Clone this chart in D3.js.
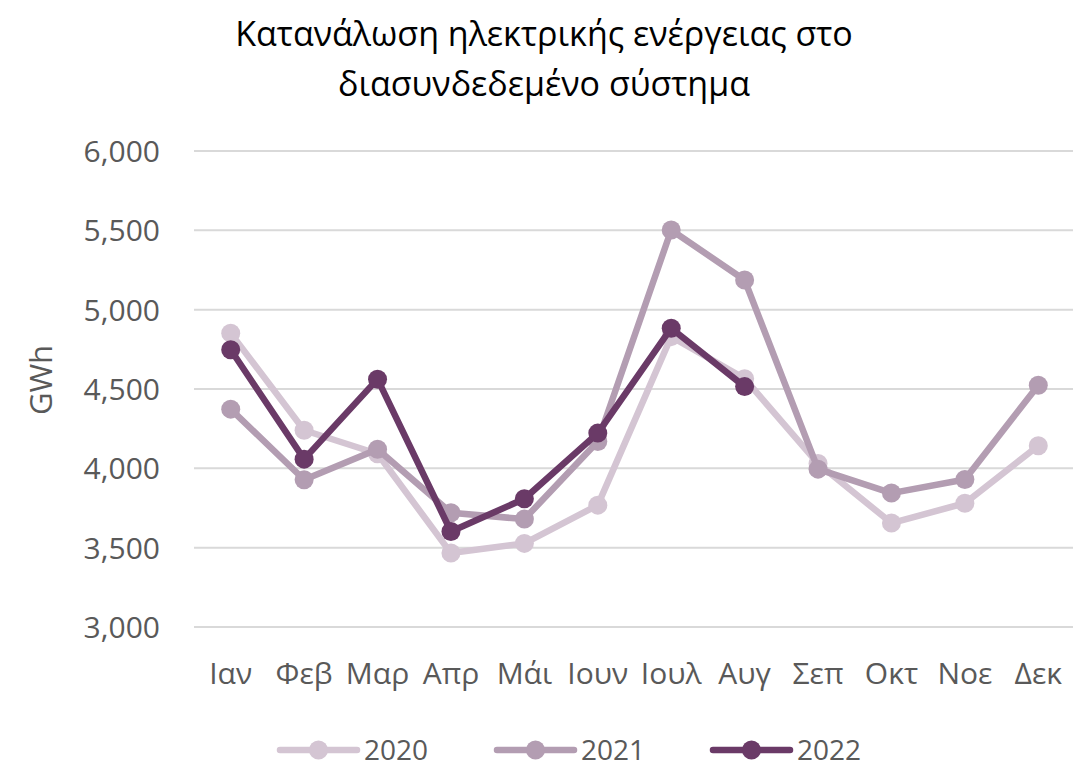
<!DOCTYPE html>
<html>
<head>
<meta charset="utf-8">
<script src="https://cdn.jsdelivr.net/npm/d3@7"></script>
<style>
  html, body { margin: 0; padding: 0; background: #fff; }
  svg { display: block; font-family: "Open Sans", "Noto Sans", sans-serif; }
</style>
</head>
<body>
<svg id="chart" width="1073" height="767"></svg>
<script>
// Monthly electricity consumption (GWh), interconnected system
const months = ["Ιαν", "Φεβ", "Μαρ", "Απρ", "Μάι", "Ιουν", "Ιουλ", "Αυγ", "Σεπ", "Οκτ", "Νοε", "Δεκ"];
const values2020 = [4852, 4240, 4092, 3466, 3527, 3768, 4830, 4565, 4030, 3655, 3780, 4142];
const values2021 = [4373, 3928, 4120, 3720, 3680, 4169, 5502, 5187, 3995, 3844, 3930, 4524];
const values2022 = [4747, 4058, 4562, 3602, 3808, 4222, 4883, 4515];
const yTicks = [3000, 3500, 4000, 4500, 5000, 5500, 6000];
const seriesNames = ["2020", "2021", "2022"];
const seriesColors = ["#D4C5D3", "#B39DB2", "#6A3A67"];
const titleLines = ["Κατανάλωση ηλεκτρικής ενέργειας στο", "διασυνδεδεμένο σύστημα"];
const yTitle = "GWh";

const series = [values2020, values2021, values2022].map((vals, i) => ({
  name: seriesNames[i],
  color: seriesColors[i],
  points: vals.map((v, j) => ({ month: months[j], value: v }))
}));

const svg = d3.select("#chart");
const plot = { left: 194, right: 1075, top: 151, bottom: 627 };

const x = d3.scaleBand().domain(months).range([plot.left, plot.right]);
const y = d3.scaleLinear().domain([3000, 6000]).range([plot.bottom, plot.top]);
const cx = m => x(m) + x.bandwidth() / 2;

// Title
svg.append("text")
  .attr("x", 544).attr("y", 46)
  .attr("text-anchor", "middle")
  .attr("font-size", 34)
  .attr("fill", "#000")
  .selectAll("tspan").data(titleLines).join("tspan")
  .attr("x", 544)
  .attr("dy", (d, i) => i === 0 ? 0 : 50)
  .text(d => d);

// Horizontal gridlines
svg.append("g").selectAll("line").data(yTicks).join("line")
  .attr("x1", plot.left).attr("x2", plot.right)
  .attr("y1", d => y(d)).attr("y2", d => y(d))
  .attr("stroke", "#D9D9D9").attr("stroke-width", 2);

// Y axis labels
const yAxis = svg.append("g")
  .attr("transform", `translate(${plot.left - 34},0)`)
  .call(d3.axisLeft(y).tickValues(yTicks).tickFormat(d3.format(",")).tickSize(0).tickPadding(0));
yAxis.select(".domain").remove();
yAxis.selectAll("text")
  .attr("font-size", 30)
  .attr("font-family", "'Open Sans', 'Noto Sans', sans-serif")
  .attr("fill", "#595959")
  .attr("dy", "0.35em");

// X axis labels
const xAxis = svg.append("g")
  .attr("transform", `translate(0,${plot.bottom + 36})`)
  .call(d3.axisBottom(x).tickSize(0).tickPadding(0));
xAxis.select(".domain").remove();
xAxis.selectAll("text")
  .attr("font-size", 30)
  .attr("font-family", "'Open Sans', 'Noto Sans', sans-serif")
  .attr("fill", "#595959")
  .attr("dy", "0.71em");

// Y axis title
svg.append("text")
  .attr("transform", "translate(52,380) rotate(-90)")
  .attr("text-anchor", "middle")
  .attr("font-size", 31)
  .attr("fill", "#595959")
  .text(yTitle);

// Lines and markers
const line = d3.line().x(d => cx(d.month)).y(d => y(d.value));
const g = svg.append("g");
series.forEach(s => {
  g.append("path")
    .attr("d", line(s.points))
    .attr("fill", "none")
    .attr("stroke", s.color)
    .attr("stroke-width", 6.5)
    .attr("stroke-linejoin", "round");
  g.append("g").selectAll("circle").data(s.points).join("circle")
    .attr("cx", d => cx(d.month))
    .attr("cy", d => y(d.value))
    .attr("r", 9.5)
    .attr("fill", s.color);
});

// Legend
const legendX = [280, 497, 713];
const legend = svg.append("g");
series.forEach((s, i) => {
  const lg = legend.append("g").attr("transform", `translate(${legendX[i]},750)`);
  lg.append("line").attr("x1", 0).attr("x2", 77).attr("y1", 0).attr("y2", 0)
    .attr("stroke", s.color).attr("stroke-width", 6.5).attr("stroke-linecap", "round");
  lg.append("circle").attr("cx", 38.5).attr("cy", 0).attr("r", 9.5).attr("fill", s.color);
  lg.append("text").attr("x", 84).attr("y", 0).attr("dy", "0.35em")
    .attr("font-size", 28).attr("fill", "#595959").text(s.name);
});
</script>
</body>
</html>
